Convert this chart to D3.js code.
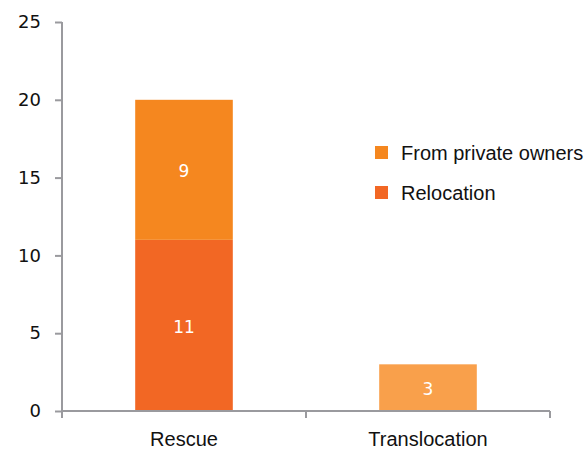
<!DOCTYPE html>
<html>
<head>
<meta charset="utf-8">
<script src="https://cdn.jsdelivr.net/npm/d3@7"></script>
<style>
  body { margin: 0; background: #fff; }
  svg { display: block; }
</style>
</head>
<body>
<svg id="chart" width="588" height="450"></svg>
<script>
// Categories and stacked series values
const categories = ["Rescue", "Translocation"];
const relocation = [11, 0];
const privateOwners = [9, 0];
const translocation = [0, 3];
const yTicks = [0, 5, 10, 15, 20, 25];

const seriesNames = ["Relocation", "From private owners", "Translocation"];
const seriesColors = ["#F26724", "#F5871F", "#F9A04B"];
const legendNames = ["From private owners", "Relocation"];

const rows = categories.map((c, i) => ({
  category: c,
  "Relocation": relocation[i],
  "From private owners": privateOwners[i],
  "Translocation": translocation[i]
}));

const svg = d3.select("#chart");
const plotLeft = 62, plotRight = 550, plotTop = 22, plotBottom = 411;

const x = d3.scaleBand().domain(categories).range([plotLeft, plotRight]).paddingInner(0.6).paddingOuter(0.3);
const y = d3.scaleLinear().domain([0, 25]).range([plotBottom, plotTop]);
const color = d3.scaleOrdinal().domain(seriesNames).range(seriesColors);

const stacked = d3.stack().keys(seriesNames)(rows);

// Bars
const layers = svg.append("g").selectAll("g").data(stacked).join("g")
  .attr("fill", d => color(d.key));
layers.selectAll("rect").data(d => d.map(p => ({ p, key: d.key })))
  .join("rect")
  .attr("x", d => x(d.p.data.category))
  .attr("width", x.bandwidth())
  .attr("y", d => y(d.p[1]))
  .attr("height", d => y(d.p[0]) - y(d.p[1]));

// Value labels inside segments
layers.selectAll("text").data(d => d.map(p => ({ p, key: d.key })).filter(e => e.p[1] - e.p[0] > 0))
  .join("text")
  .attr("x", d => x(d.p.data.category) + x.bandwidth() / 2)
  .attr("y", d => (y(d.p[0]) + y(d.p[1])) / 2 + 1.5)
  .attr("dy", "0.35em")
  .attr("text-anchor", "middle")
  .attr("fill", "#fff")
  .attr("font-family", "DejaVu Sans, Verdana, sans-serif")
  .attr("font-size", 17)
  .text(d => d.p[1] - d.p[0]);

const axisColor = "#9a9a9e";

// Y axis
const yAxis = svg.append("g").attr("transform", `translate(${plotLeft},0)`)
  .call(d3.axisLeft(y).tickValues(yTicks).tickSize(7).tickPadding(14));
yAxis.select(".domain").attr("stroke", axisColor).attr("stroke-width", 2)
  .attr("d", `M0,${plotTop}V${plotBottom + 7}`);
yAxis.selectAll(".tick line").attr("stroke", axisColor).attr("stroke-width", 2);
yAxis.selectAll(".tick text").attr("fill", "#111")
  .attr("font-family", "DejaVu Sans, Verdana, sans-serif").attr("font-size", 18);

// X axis: line plus category boundary ticks
const xAxis = svg.append("g").attr("transform", `translate(0,${plotBottom})`);
xAxis.append("line").attr("x1", plotLeft).attr("x2", plotRight).attr("stroke", axisColor).attr("stroke-width", 2);
const boundaries = d3.range(categories.length + 1).map(i => plotLeft + i * (plotRight - plotLeft) / categories.length);
xAxis.selectAll(".bt").data(boundaries).join("line")
  .attr("x1", d => d).attr("x2", d => d).attr("y1", 0).attr("y2", 7)
  .attr("stroke", axisColor).attr("stroke-width", 2);
xAxis.selectAll(".cat").data(categories).join("text")
  .attr("x", d => x(d) + x.bandwidth() / 2)
  .attr("y", 35)
  .attr("text-anchor", "middle")
  .attr("fill", "#111")
  .attr("font-family", "Liberation Sans, Arial, sans-serif")
  .attr("font-size", 20)
  .text(d => d);

// Legend
const legend = svg.append("g").attr("transform", "translate(375,146)");
const items = legend.selectAll("g").data(legendNames).join("g")
  .attr("transform", (d, i) => `translate(0,${i * 40})`);
items.append("rect").attr("width", 13).attr("height", 13).attr("fill", d => color(d));
items.append("text").attr("x", 26).attr("y", 6.5).attr("dy", "0.35em")
  .attr("fill", "#111")
  .attr("font-family", "Liberation Sans, Arial, sans-serif")
  .attr("font-size", 20)
  .text(d => d);
</script>
</body>
</html>
